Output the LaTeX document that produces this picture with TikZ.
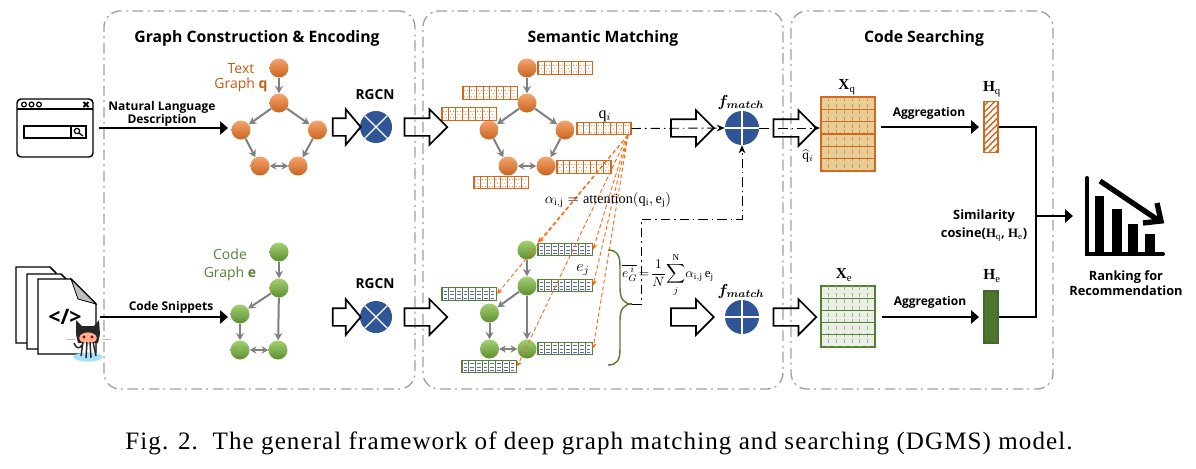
\documentclass[tikz,border=0pt]{standalone}
\usepackage{amsmath}
\usepackage{fontspec}
\setmainfont{Liberation Serif}
\setsansfont{Open Sans}
\usetikzlibrary{arrows.meta,shapes.arrows,patterns.meta}
\definecolor{qorange}{HTML}{C55A11}
\definecolor{barorange}{HTML}{D2691E}
\definecolor{egreen}{HTML}{548235}
\definecolor{panelgray}{HTML}{A0A0A0}
\definecolor{edgegray}{HTML}{808080}
\definecolor{matchblue}{HTML}{2F5597}
\definecolor{attnorange}{HTML}{FF6A13}
\definecolor{qtop}{HTML}{F4A46E}
\definecolor{qbot}{HTML}{C8641E}
\definecolor{etop}{HTML}{A5D070}
\definecolor{ebot}{HTML}{5A8F32}
\definecolor{xqfill}{HTML}{E6CE96}
\definecolor{xefill}{HTML}{EBEEE4}
\tikzset{
  panelbox/.style={draw=panelgray,line width=1pt,rounded corners=12pt,inner sep=0pt,
    dash pattern=on 8pt off 3pt on 1.5pt off 3.5pt},
  titlelabel/.style={font=\sffamily\bfseries\fontsize{11.8}{14}\selectfont,inner sep=0pt},
  smalllabel/.style={font=\sffamily\bfseries\fontsize{9}{11}\selectfont,inner sep=0pt,align=center},
  ranklabels/.style={font=\sffamily\bfseries\fontsize{9.6}{11.2}\selectfont,inner sep=0pt,align=center},
  rgcnlabel/.style={font=\sffamily\bfseries\fontsize{10.3}{12}\selectfont,inner sep=0pt},
  graphlabel/.style={font=\sffamily\fontsize{10.5}{12}\selectfont,inner sep=0pt,align=center},
  mathlabel/.style={font=\fontsize{10.7}{12}\selectfont,inner sep=0pt},
  qnode/.style={circle,minimum size=14.25pt,inner sep=0pt,top color=qtop,bottom color=qbot},
  enode/.style={circle,minimum size=14.25pt,inner sep=0pt,top color=etop,bottom color=ebot},
  grayedge/.style={draw=edgegray,line width=1.5pt,-{Stealth[length=5.5pt,width=6pt]}},
  grayboth/.style={draw=edgegray,line width=1.5pt,{Stealth[length=5pt,width=5.5pt]}-{Stealth[length=5pt,width=5.5pt]}},
  bigarrow/.style={draw=black,line width=2pt,-{Triangle[length=6pt,width=10pt]}},
  flowline/.style={draw=black,line width=.7pt,dash pattern=on 7pt off 3pt on 1.2pt off 3pt},
  flowarrow/.style={flowline,-{Stealth[length=6pt,width=5pt]}},
  attnline/.style={draw=attnorange,line width=.7pt,densely dashed,-{Stealth[length=4pt,width=4pt]}},
  blockshort/.style={single arrow,draw=black,line width=1.3pt,inner sep=0pt,text height=12pt,text depth=0pt,
    single arrow head extend=6.75pt,minimum height=21pt,single arrow tip angle=100},
  blocklong/.style={blockshort,minimum height=32pt,single arrow tip angle=90},
  crossnode/.style={circle,fill=matchblue,minimum size=24pt,inner sep=0pt,
    path picture={\draw[white,line width=1pt]
      (path picture bounding box.north east) -- (path picture bounding box.south west)
      (path picture bounding box.north west) -- (path picture bounding box.south east);}},
  plusnode/.style={circle,fill=matchblue,minimum size=25.5pt,inner sep=0pt,
    path picture={\draw[white,line width=1pt]
      (path picture bounding box.north) -- (path picture bounding box.south)
      (path picture bounding box.west) -- (path picture bounding box.east);}},
  qbar/.style={draw=barorange,fill=white,line width=.9pt,minimum width=40.5pt,minimum height=9.4pt,inner sep=0pt},
  ebar/.style={draw=egreen,fill=white,line width=.9pt,minimum width=40.5pt,minimum height=9.4pt,inner sep=0pt},
  iconline/.style={draw=black,line width=1.1pt,fill=white},
  chartline/.style={draw=black,line width=3pt,line cap=round},
}
\newcommand\qcells[1]{\foreach \c in {0,...,7}{
    \draw[barorange,line width=.7pt] ([xshift=\c*5.06pt]#1.south west) -- ([xshift=\c*5.06pt]#1.north west);
    \foreach \px/\py in {1.4/2.2,3.6/2.2,2.5/4.7,1.4/7.2,3.6/7.2}
      \fill[barorange] ([xshift=\c*5.06pt+\px pt,yshift=\py pt]#1.south west) circle (.4pt);
  }}
\newcommand\ecells[1]{\foreach \c in {0,...,7}{
    \draw[egreen,line width=.7pt] ([xshift=\c*5.06pt]#1.south west) -- ([xshift=\c*5.06pt]#1.north west);
    \foreach \py in {2.2,4.7,7.2}
      \draw[blue!65!white,line width=.6pt] ([xshift=\c*5.06pt+1.2pt,yshift=\py pt]#1.south west) -- ([xshift=\c*5.06pt+3.9pt,yshift=\py pt]#1.south west);
  }}
\begin{document}
\begin{tikzpicture}[x=0.75pt,y=-0.75pt]
  \useasboundingbox (0,0) rectangle (1196,468);

  \node[panelbox,minimum width=233.25pt,minimum height=283.5pt] (panelA) at (259.5,200) {};
  \node[panelbox,minimum width=270pt,minimum height=283.5pt] (panelB) at (603,200) {};
  \node[panelbox,minimum width=196.5pt,minimum height=283.5pt] (panelC) at (922,200) {};

  \node[titlelabel] (titleA) at (257,38) {Graph Construction \& Encoding};
  \node[titlelabel] (titleB) at (603,38) {Semantic Matching};
  \node[titlelabel] (titleC) at (924,38) {Code Searching};

  \node[iconline,rounded corners=3pt,minimum width=57pt,minimum height=43.5pt,inner sep=0pt] (browser) at (55,128) {};
  \draw[iconline] (17,109) -- (93,109);
  \foreach \i in {24,31.5,39}
    \draw[draw=black,line width=.9pt] (\i,104.5) circle (1.8pt);
  \draw[draw=black,line width=1.4pt] (83.5,102) -- (88.5,107) (83.5,107) -- (88.5,102);
  \draw[iconline] (24,126) rectangle (86,138);
  \draw[iconline] (71,126) -- (71,138);
  \draw[draw=black,line width=.9pt] (77,131) circle (2pt) (79,133) -- (83,136);

  \draw[iconline] (16,267) -- (50,267) -- (56,273) -- (56,343) -- (16,343) -- cycle;
  \draw[iconline] (27,274) -- (61,274) -- (67,280) -- (67,349) -- (27,349) -- cycle;
  \draw[iconline] (38,279) -- (71,279) -- (96,304) -- (96,354) -- (38,354) -- cycle;
  \draw[draw=black,line width=.6pt,fill=lightgray] (71,279) -- (96,304) -- (78,299) -- cycle;
  \node[font=\sffamily\bfseries\fontsize{16}{18}\selectfont,inner sep=0pt] (codemark) at (65,317) {</>};
  \fill[cyan!35!white] (88,357) ellipse (11pt and 3.4pt);
  \draw[lightgray,line width=.5pt] (66,339) -- (75,339) (102,339) -- (111,339);
  \fill[black!85] (76,320) -- (82,326) -- (94,326) -- (99,320) -- (100,334) -- (98,343) -- (78,343) -- (76,334) -- cycle;
  \fill[orange!25!pink] (88,338) ellipse (6.6pt and 4.2pt);
  \fill[red!60!black] (84,337) circle (1.2pt) (92,337) circle (1.2pt);
  \draw[black!85,line width=1.1pt] (74,343) .. controls (76,349) and (80,349) .. (82,345)
    (83,342) -- (81,356) (87,342) -- (86,358) (90,342) -- (91,358) (93,342) -- (96,356);

  \begin{scope}[every node/.style={qnode}]
    \node (qa1) at (279,68)  {};
    \node (qa2) at (279,103) {};
    \node (qa3) at (241,130) {};
    \node (qa4) at (317.5,130) {};
    \node (qa5) at (260,166) {};
    \node (qa6) at (298,166) {};
    \node (qb1) at (527,68)  {};
    \node (qb2) at (527,103) {};
    \node (qb3) at (489,130) {};
    \node (qb4) at (565,130) {};
    \node (qb5) at (508,166) {};
    \node (qb6) at (546,166) {};
  \end{scope}

  \begin{scope}[every node/.style={enode}]
    \node (ea1) at (279,252) {};
    \node (ea2) at (279,288) {};
    \node (ea3) at (240,314) {};
    \node (ea4) at (240,350) {};
    \node (ea5) at (278,350) {};
    \node (eb1) at (527,250) {};
    \node (eb2) at (527,286) {};
    \node (eb3) at (489.5,313) {};
    \node (eb4) at (489.5,349) {};
    \node (eb5) at (527,349) {};
  \end{scope}

  \begin{scope}[every edge/.style={grayedge}]
    \path (qa1) edge (qa2);
    \path (qa2) edge (qa3);
    \path (qa2) edge (qa4);
    \path (qa3) edge (qa5);
    \path (qa4) edge (qa6);
    \path (qb1) edge (qb2);
    \path (qb2) edge (qb3);
    \path (qb2) edge (qb4);
    \path (qb3) edge (qb5);
    \path (qb4) edge (qb6);
    \path (ea1) edge (ea2);
    \path (ea2) edge (ea3);
    \path (ea2) edge (ea5);
    \path (ea3) edge (ea4);
    \path (eb1) edge (eb2);
    \path (eb2) edge (eb3);
    \path (eb2) edge (eb5);
    \path (eb3) edge (eb4);
  \end{scope}

  \begin{scope}[every edge/.style={grayboth}]
    \path (qa5) edge (qa6);
    \path (qb5) edge (qb6);
    \path (ea4) edge (ea5);
    \path (eb4) edge (eb5);
  \end{scope}

  \node[graphlabel,text=qorange] (textgraph) at (241,78) {Text\\[-1pt]Graph \textbf{q}};
  \node[graphlabel,text=egreen] (codegraph) at (230,265) {Code\\[1pt]Graph \textbf{e}};

  \begin{scope}[every node/.style={qbar}]
    \node (qv1) at (565.5,68)  {};
    \node (qv2) at (490.5,93)  {};
    \node (qv3) at (469.5,114) {};
    \node (qv4) at (604,128.5) {};
    \node (qv5) at (584,167)   {};
    \node (qv6) at (501.5,182.5) {};
  \end{scope}
  \foreach \n in {qv1,qv2,qv3,qv4,qv5,qv6} {\qcells{\n}}

  \begin{scope}[every node/.style={ebar}]
    \node (ev1) at (565.5,249.5) {};
    \node (ev2) at (565.5,285.5) {};
    \node (ev3) at (469.5,294)   {};
    \node (ev4) at (565.5,348.5) {};
    \node (ev5) at (489.5,366.5) {};
  \end{scope}
  \foreach \n in {ev1,ev2,ev3,ev4,ev5} {\ecells{\n}}

  \node[crossnode] (rgq) at (376,127) {};
  \node[crossnode] (rge) at (376,317) {};
  \node[plusnode] (fmq) at (742,128) {};
  \node[plusnode] (fme) at (742,317) {};
  \node[rgcnlabel] (rglabq) at (375,95) {RGCN};
  \node[rgcnlabel] (rglabe) at (375,284) {RGCN};
  \node[mathlabel,font=\fontsize{11.5}{14}\selectfont] (fmlabq) at (741,102) {$\boldsymbol{f_{match}}$};
  \node[mathlabel,font=\fontsize{11.5}{14}\selectfont] (fmlabe) at (741,291) {$\boldsymbol{f_{match}}$};

  \node[blockshort] (arq1) at (343,127) {};
  \node[blockshort] (are1) at (343,317) {};
  \node[blocklong] (arq2) at (421.5,127) {};
  \node[blocklong] (are2) at (421.5,317) {};
  \node[blocklong] (arq3) at (688,128) {};
  \node[blocklong] (are3) at (688,317) {};
  \node[blocklong] (arq4) at (790.5,128) {};
  \node[blocklong] (are4) at (790.5,317) {};

  \coordinate (qstart) at (99,128);
  \coordinate (qend) at (228,128);
  \coordinate (estart) at (100,317);
  \coordinate (eend) at (228,317);
  \draw[bigarrow] (qstart) -- (qend);
  \draw[bigarrow] (estart) -- (eend);
  \node[smalllabel] (nldesc) at (162,114) {Natural Language\\[-1pt]Description};
  \node[smalllabel] (snippets) at (171,307) {Code Snippets};

  \node[draw=barorange,fill=xqfill,line width=.9pt,minimum width=40.5pt,minimum height=55.5pt,inner sep=0pt] (xq) at (848,134) {};
  \node[draw=egreen,fill=xefill,line width=.9pt,minimum width=40.5pt,minimum height=45.75pt,inner sep=0pt] (xe) at (848,316.5) {};
  \foreach \c in {1,...,6}{
    \draw[barorange!60!xqfill,line width=.5pt,densely dashed] ({821+\c*7.71},97) -- ({821+\c*7.71},171);
    \draw[egreen!50!xefill,line width=.5pt,densely dashed] ({821+\c*7.71},286) -- ({821+\c*7.71},347);
  }
  \foreach \r in {1,...,5}
    \draw[barorange,line width=.9pt] (821,{97+\r*12.33}) -- (875,{97+\r*12.33});
  \foreach \r in {1,...,4}
    \draw[egreen,line width=.9pt] (821,{286+\r*12.2}) -- (875,{286+\r*12.2});

  \node[draw=barorange,line width=.9pt,minimum width=10.5pt,minimum height=38.25pt,inner sep=0pt,
    pattern={Lines[angle=45,distance=3.4pt,line width=1.1pt]},pattern color=barorange] (hq) at (991,127) {};
  \node[draw=egreen!80!black,fill=egreen!90!black,line width=.9pt,minimum width=10.5pt,minimum height=39pt,inner sep=0pt] (he) at (991,317) {};

  \node[mathlabel,font=\fontsize{11.5}{13}\selectfont] (xqlab) at (847,87) {$\mathbf{X}_{\mathrm{q}}$};
  \node[mathlabel,font=\fontsize{11.5}{13}\selectfont] (xelab) at (844,275) {$\mathbf{X}_{\mathrm{e}}$};
  \node[mathlabel,font=\fontsize{11.5}{13}\selectfont] (hqlab) at (992,89) {$\mathbf{H}_{\mathrm{q}}$};
  \node[mathlabel,font=\fontsize{11.5}{13}\selectfont] (helab) at (992,276) {$\mathbf{H}_{\mathrm{e}}$};
  \node[smalllabel] (aggq) at (929,113) {Aggregation};
  \node[smalllabel] (agge) at (930,302) {Aggregation};

  \coordinate (aggqs) at (881,127);
  \coordinate (aggqe) at (979,127);
  \coordinate (agges) at (882,317);
  \coordinate (aggee) at (979,317);
  \draw[bigarrow] (aggqs) -- (aggqe);
  \draw[bigarrow] (agges) -- (aggee);

  \coordinate (joinq) at (1036,127);
  \coordinate (joine) at (1036,317);
  \coordinate (joinm) at (1036,216);
  \coordinate (rankin) at (1073,216);
  \draw[draw=black,line width=2pt] (hq.east) -- (joinq) -- (joine) -- (he.east);
  \draw[bigarrow] (joinm) -- (rankin);
  \node[ranklabels] (simlabel) at (984,216) {Similarity};
  \node[ranklabels] (coslabel) at (984,235) {cosine($\mathbf{H}_{\mathrm{q}}$, $\mathbf{H}_{\mathrm{e}}$)};

  \draw[chartline] (1087,178) -- (1087,254) -- (1163,254);
  \fill[black] (1095,196) rectangle (1104,254);
  \fill[black] (1112,209) rectangle (1122,254);
  \fill[black] (1128,224) rectangle (1138,254);
  \fill[black] (1145,234) rectangle (1155,254);
  \draw[draw=black,line width=4pt] (1100,181) -- (1158,220);
  \draw[draw=black,line width=4pt] (1157,203) -- (1161,221) -- (1143,223);
  \node[ranklabels] (ranklabel) at (1126,283) {Ranking for\\Recommendation};

  \coordinate (braceend) at (632,304);
  \draw[draw=egreen,line width=1.1pt] (608,250) .. controls (617,250) and (620,255) .. (620,266)
    -- (620,288) .. controls (620,299) and (624,304) .. (braceend)
    .. controls (624,304) and (620,309) .. (620,320) -- (620,349)
    .. controls (620,360) and (617,365) .. (608,365);

  \coordinate (xqin) at (820,128);
  \coordinate (bendb) at (641,304);
  \coordinate (bendc) at (641,219);
  \coordinate (bendd) at (742,219);
  \draw[flowarrow] (qv4.east) -- (fmq.west);
  \draw[flowarrow] (fmq.east) -- (xqin);
  \draw[flowarrow] (braceend) -- (bendb) -- (bendc) -- (bendd) -- (fmq.south);

  \coordinate (attnstart) at (628,135);
  \draw[attnline] (attnstart) -- (ev1.north west);
  \draw[attnline] (attnstart) -- (ev1.east);
  \draw[attnline] (attnstart) -- (ev2.east);
  \draw[attnline] (attnstart) -- (ev3.east);
  \draw[attnline] (attnstart) -- (ev4.east);
  \draw[attnline] (attnstart) -- (ev5.east);

  \node[mathlabel,font=\fontsize{12}{14}\selectfont] (qilab) at (605,116) {$\mathrm{q}_i$};
  \node[mathlabel,font=\fontsize{10}{12}\selectfont] (qhat) at (808,156) {$\widehat{\mathrm{q}}_i$};
  \node[mathlabel,font=\fontsize{12}{14}\selectfont] (ejlab) at (583,270) {$e_j$};
  \node[mathlabel] (attn) at (608,200) {$\alpha_{\mathrm{i,j}}=\mathrm{attention}(\mathrm{q_i},\mathrm{e_j})$};
  \node[mathlabel,font=\fontsize{9.6}{12}\selectfont] (egform) at (668,275) {$\displaystyle\overline{e_G^{\,i}}\!=\!\frac{1}{N}\!\sum_{j}^{\mathrm{N}}\!\alpha_{\mathrm{i,j}}\,\mathrm{e_j}$};

  \node[inner sep=0pt,font=\fontsize{18.8}{21}\selectfont\addfontfeature{LetterSpace=4.3}] (caption) at (599,443) {Fig. 2.\ \ The general framework of deep graph matching and searching (DGMS) model.};
\end{tikzpicture}
\end{document}
